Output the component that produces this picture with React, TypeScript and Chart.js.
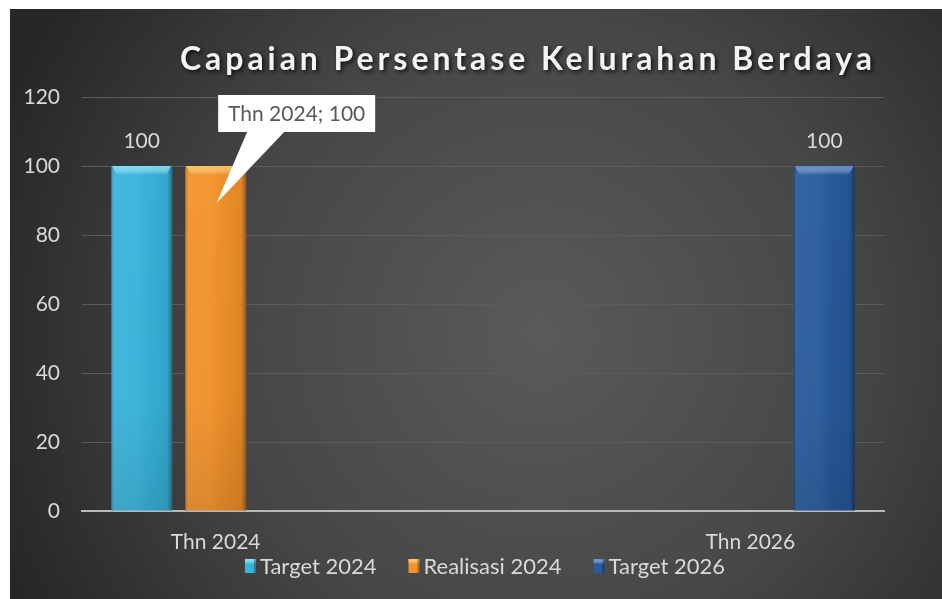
import React, { useEffect, useRef } from "react";
import { Chart, registerables } from "chart.js";

Chart.register(...registerables);

const chartTitle = "Capaian Persentase Kelurahan Berdaya";
const categories = ["Thn 2024", "", "Thn 2026"];
const seriesNames = ["Target 2024", "Realisasi 2024", "Target 2026"];
const target2024 = [100, null, null];
const realisasi2024 = [100, null, null];
const target2026 = [null, null, 100];
const seriesColors = ["#38b4dc", "#f3922a", "#285a9c"];
const seriesTopColors = ["#86e2f6", "#f9c850", "#5d8fd0"];
const yMin = 0;
const yMax = 120;
const yStep = 20;
const calloutSeriesIndex = 1;
const calloutPointIndex = 0;
const labelledSeries = [0, 2];

const FONT = "Lato, 'Open Sans', sans-serif";

const bgPlugin = {
  id: "bgPlugin",
  beforeDraw(chart: any) {
    const { ctx, width, height } = chart;
    ctx.save();
    const cx = width * 0.57;
    const cy = height * 0.55;
    const g = ctx.createRadialGradient(cx, cy, 0, cx, cy, width * 0.62);
    g.addColorStop(0, "#5a5a5a");
    g.addColorStop(0.55, "#464646");
    g.addColorStop(1, "#272727");
    ctx.fillStyle = g;
    ctx.fillRect(0, 0, width, height);
    ctx.restore();
  },
};

const barShadePlugin = {
  id: "barShade",
  afterDatasetsDraw(chart: any) {
    const { ctx } = chart;
    chart.data.datasets.forEach((ds: any, di: number) => {
      const meta = chart.getDatasetMeta(di);
      meta.data.forEach((el: any, i: number) => {
        if (ds.data[i] == null) return;
        const { x, y, base, width } = el.getProps(["x", "y", "base", "width"], true);
        const left = x - width / 2;
        const h = base - y;
        ctx.save();
        const hg = ctx.createLinearGradient(left, 0, left + width, 0);
        hg.addColorStop(0, "rgba(0,0,0,0.25)");
        hg.addColorStop(0.06, "rgba(255,255,255,0.06)");
        hg.addColorStop(0.45, "rgba(255,255,255,0.04)");
        hg.addColorStop(0.6, "rgba(0,0,0,0.02)");
        hg.addColorStop(0.92, "rgba(0,0,0,0.08)");
        hg.addColorStop(1, "rgba(0,0,0,0.38)");
        ctx.fillStyle = hg;
        ctx.fillRect(left, y, width, h);
        const vg = ctx.createLinearGradient(0, y, 0, base);
        vg.addColorStop(0, "rgba(0,0,0,0)");
        vg.addColorStop(0.7, "rgba(0,0,0,0.02)");
        vg.addColorStop(1, "rgba(0,0,0,0.1)");
        ctx.fillStyle = vg;
        ctx.fillRect(left, y, width, h);
        const tg = ctx.createLinearGradient(0, y, 0, y + 9);
        tg.addColorStop(0, seriesTopColors[di]);
        tg.addColorStop(1, "rgba(255,255,255,0)");
        ctx.globalAlpha = 0.85;
        ctx.fillStyle = tg;
        ctx.beginPath();
        ctx.moveTo(left + 1, y);
        ctx.lineTo(left + width - 1, y);
        ctx.lineTo(left + width - 6, y + 9);
        ctx.lineTo(left + 6, y + 9);
        ctx.closePath();
        ctx.fill();
        ctx.restore();
      });
    });
  },
};

const dataLabelPlugin = {
  id: "dataLabels",
  afterDatasetsDraw(chart: any) {
    const { ctx } = chart;
    ctx.save();
    ctx.font = `21px ${FONT}`;
    ctx.fillStyle = "#d9d9d9";
    ctx.textAlign = "center";
    ctx.textBaseline = "middle";
    labelledSeries.forEach((di) => {
      const ds = chart.data.datasets[di];
      const meta = chart.getDatasetMeta(di);
      meta.data.forEach((el: any, i: number) => {
        if (ds.data[i] == null) return;
        ctx.fillText(String(ds.data[i]), el.x, el.y - 25);
      });
    });
    ctx.restore();
  },
};

const calloutPlugin = {
  id: "callout",
  afterDraw(chart: any) {
    const { ctx } = chart;
    const el = chart.getDatasetMeta(calloutSeriesIndex).data[calloutPointIndex];
    const val = chart.data.datasets[calloutSeriesIndex].data[calloutPointIndex];
    const text = `${categories[calloutPointIndex]}; ${val}`;
    const tipX = el.x + 1;
    const tipY = el.y + 37;
    const bx = el.x + 2.5;
    const by = el.y - 71;
    const bw = 157;
    const bh = 37;
    ctx.save();
    ctx.fillStyle = "#ffffff";
    ctx.beginPath();
    ctx.moveTo(bx, by);
    ctx.lineTo(bx + bw, by);
    ctx.lineTo(bx + bw, by + bh);
    ctx.lineTo(bx + 66, by + bh);
    ctx.lineTo(tipX, tipY);
    ctx.lineTo(bx + 29, by + bh);
    ctx.lineTo(bx, by + bh);
    ctx.closePath();
    ctx.fill();
    ctx.font = `21px ${FONT}`;
    ctx.fillStyle = "#595959";
    ctx.textAlign = "center";
    ctx.textBaseline = "middle";
    ctx.fillText(text, bx + bw / 2, by + bh / 2 + 1);
    ctx.restore();
  },
};

const titleLegendPlugin = {
  id: "titleLegend",
  afterDraw(chart: any) {
    const { ctx, chartArea } = chart;
    ctx.save();
    ctx.font = `bold 32px ${FONT}`;
    ctx.textBaseline = "alphabetic";
    ctx.textAlign = "left";
    const targetW = 692;
    const natural = ctx.measureText(chartTitle).width;
    const spacing = (targetW - natural) / (chartTitle.length - 1);
    (ctx as any).letterSpacing = `${spacing}px`;
    const tx = 170;
    ctx.shadowColor = "rgba(0,0,0,0.75)";
    ctx.shadowBlur = 4;
    ctx.shadowOffsetX = 2;
    ctx.shadowOffsetY = 2;
    ctx.fillStyle = "#f4f4f4";
    ctx.fillText(chartTitle, tx, 61);
    ctx.restore();

    ctx.save();
    ctx.font = `22px ${FONT}`;
    ctx.textBaseline = "middle";
    ctx.textAlign = "left";
    const boxW = 11;
    const boxH = 14;
    const gap = 4;
    const itemGap = 32;
    const widths = seriesNames.map((n) => boxW + gap + ctx.measureText(n).width);
    const total = widths.reduce((a, b) => a + b, 0) + itemGap * (seriesNames.length - 1);
    let x = (chartArea.left + chartArea.right) / 2 + 2 - total / 2;
    const cy = 557;
    seriesNames.forEach((n, i) => {
      ctx.fillStyle = seriesColors[i];
      ctx.fillRect(x, cy - boxH / 2, boxW, boxH);
      const g = ctx.createLinearGradient(0, cy - boxH / 2, 0, cy - boxH / 2 + 5);
      g.addColorStop(0, seriesTopColors[i]);
      g.addColorStop(1, "rgba(255,255,255,0)");
      ctx.fillStyle = g;
      ctx.fillRect(x, cy - boxH / 2, boxW, 5);
      ctx.fillStyle = "rgba(0,0,0,0.3)";
      ctx.fillRect(x + boxW - 2, cy - boxH / 2, 2, boxH);
      ctx.fillStyle = "#d9d9d9";
      ctx.fillText(n, x + boxW + gap, cy + 1);
      x += widths[i] + itemGap;
    });
    ctx.restore();
  },
};

export default function App() {
  const canvasRef = useRef<HTMLCanvasElement | null>(null);

  useEffect(() => {
    if (!canvasRef.current) return;
    const chart = new Chart(canvasRef.current, {
      type: "bar",
      data: {
        labels: categories,
        datasets: [
          { label: seriesNames[0], data: target2024, backgroundColor: seriesColors[0], borderWidth: 0 },
          { label: seriesNames[1], data: realisasi2024, backgroundColor: seriesColors[1], borderWidth: 0 },
          { label: seriesNames[2], data: target2026, backgroundColor: seriesColors[2], borderWidth: 0 },
        ],
      },
      options: {
        animation: false,
        responsive: true,
        maintainAspectRatio: false,
        layout: { padding: { top: 88, right: 58, left: 0, bottom: 0 } },
        datasets: { bar: { categoryPercentage: 0.83, barPercentage: 0.824 } },
        plugins: {
          legend: { display: false },
          title: { display: false },
          tooltip: { enabled: false },
        },
        scales: {
          x: {
            grid: { display: false, drawTicks: false },
            border: { display: true, color: "#b9b9b9", width: 2 },
            ticks: {
              color: "#d9d9d9",
              font: { family: FONT, size: 21 },
              padding: 19,
              maxRotation: 0,
              autoSkip: false,
            },
            afterFit(scale: any) {
              scale.height = 88;
            },
          },
          y: {
            min: yMin,
            max: yMax,
            grid: { color: "#5c5c5c", lineWidth: 1, drawTicks: false },
            border: { display: false },
            ticks: {
              stepSize: yStep,
              color: "#d9d9d9",
              font: { family: FONT, size: 21 },
              padding: 22,
            },
            afterFit(scale: any) {
              scale.width = 72;
            },
          },
        },
      },
      plugins: [bgPlugin, barShadePlugin, dataLabelPlugin, calloutPlugin, titleLegendPlugin],
    });
    return () => chart.destroy();
  }, []);

  return (
    <div style={{ position: "absolute", left: 10, top: 9, width: 932, height: 590 }}>
      <canvas ref={canvasRef} style={{ display: "block" }} />
    </div>
  );
}
